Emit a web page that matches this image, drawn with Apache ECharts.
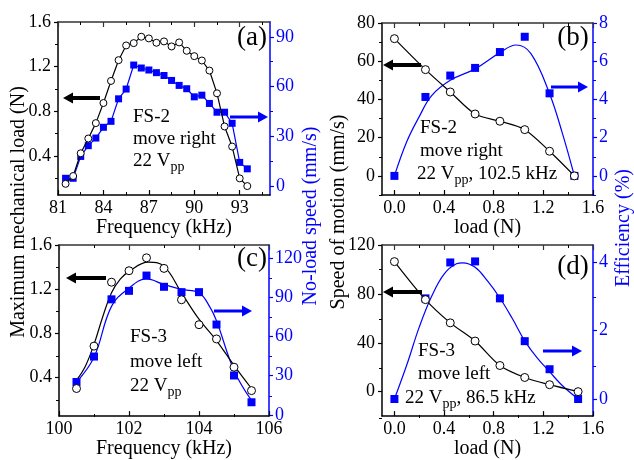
<!DOCTYPE html>
<html>
<head>
<meta charset="utf-8">
<script src="https://cdn.jsdelivr.net/npm/echarts@6/dist/echarts.min.js"></script>
<style>
    html, body { margin: 0; padding: 0; background: #fff; }
    #chart { width: 634px; height: 460px; }
</style>
</head>
<body>
<div id="chart"></div>
<script>
// (a) FS-2 move right, frequency sweep
const freqA = [81.5, 82, 82.5, 83, 83.5, 84, 84.5, 85, 85.5, 86, 86.5, 87, 87.5, 88, 88.5, 89, 89.5, 90, 90.5, 91, 91.5, 92, 92.5, 93, 93.5]
const loadA = [0.15, 0.22, 0.424, 0.556, 0.694, 0.874, 1.072, 1.258, 1.39, 1.411, 1.468, 1.453, 1.414, 1.426, 1.381, 1.417, 1.342, 1.294, 1.255, 1.165, 0.961, 0.664, 0.484, 0.199, 0.13]
const speedA = [4.6, 4.6, 17.8, 24.3, 28.9, 35.4, 39.0, 52.6, 58.5, 73.0, 71.2, 70.0, 68.4, 66.7, 63.7, 60.7, 58.7, 53.8, 54.8, 49.8, 44.5, 44.5, 37.8, 14.2, 10.3]

// (b) FS-2 move right, 22 Vpp, 102.5 kHz
const loadB = [0, 0.25, 0.45, 0.65, 0.85, 1.05, 1.25, 1.45]
const speedB = [71.8, 55.6, 43.9, 32.4, 28.6, 24.2, 12.9, 0]
const effB = [0, 4.13, 5.25, 5.65, 6.48, 7.28, 4.32, 0]
const effFitLoadB = [0, 0.1, 0.2, 0.3, 0.45, 0.65, 0.85, 0.98, 1.1, 1.25, 1.35, 1.45]
const effFitB = [0, 1.8, 3.1, 4.2, 5.0, 5.6, 6.45, 6.85, 6.4, 4.3, 2.3, 0]

// (c) FS-3 move left, frequency sweep
const freqC = [100.5, 101, 101.5, 102, 102.5, 103, 103.5, 104, 104.5, 105, 105.5]
const loadC = [0.30, 0.684, 1.263, 1.367, 1.484, 1.388, 1.104, 0.878, 0.749, 0.493, 0.281]
const speedC = [25.1, 44.6, 88.4, 94.9, 106.6, 98, 93.9, 93.9, 69.1, 30.1, 9.6]
const loadFitFreqC = [100.5, 100.75, 101, 101.25, 101.5, 101.75, 102, 102.55, 103, 103.5, 104, 104.5, 105, 105.5]
const loadFitC = [0.376, 0.50, 0.70, 0.95, 1.167, 1.29, 1.361, 1.445, 1.406, 1.167, 0.928, 0.734, 0.51, 0.30]
const speedFitFreqC = [100.5, 101, 101.5, 102, 102.5, 103, 103.5, 104, 104.3, 104.5, 105, 105.5]
const speedFitC = [25, 44, 83, 97, 104, 99.7, 96, 93.4, 83, 72, 34, 11]

// (d) FS-3 move left, 22 Vpp, 86.5 kHz
const loadD = [0, 0.25, 0.45, 0.65, 0.85, 1.05, 1.25, 1.48]
const speedD = [106.4, 75.3, 56.3, 41.4, 21.4, 11.6, 5.7, 0]
const effD = [0, 2.94, 3.99, 4.02, 2.94, 1.69, 0.87, 0]
const effFitLoadD = [0, 0.1, 0.2, 0.3, 0.4, 0.5, 0.55, 0.65, 0.75, 0.85, 0.95, 1.05, 1.15, 1.25, 1.35, 1.48]
const effFitD = [0, 1.0, 2.1, 3.0, 3.65, 3.95, 3.98, 3.85, 3.45, 2.95, 2.35, 1.7, 1.2, 0.8, 0.4, 0]

const BLUE = '#0000ff'
const FONT = 'Liberation Serif'
const pairs = (xs, ys) => xs.map((x, k) => [x, ys[k]])

// panel layout + axis ranges
const panels = [
    {
        grid: { left: 58, top: 22, width: 212, height: 173 },
        x: [81, 95], xMajor: [81, 84, 87, 90, 93], xMinor: [82.5, 85.5, 88.5, 91.5, 94.5], xDec: 0,
        xName: 'Frequency (kHz)', nameGap: 21,
        yl: [0.05, 1.6], ylMajor: [0.4, 0.8, 1.2, 1.6], ylMinor: [0.2, 0.6, 1.0, 1.4], ylDec: 1,
        yr: [-5.5, 99], yrMajor: [0, 30, 60, 90], yrMinor: [15, 45, 75], yrDec: 0
    },
    {
        grid: { left: 382, top: 23, width: 211, height: 172 },
        x: [-0.1, 1.6], xMajor: [0, 0.4, 0.8, 1.2, 1.6], xMinor: [0.2, 0.6, 1.0, 1.4], xDec: 1,
        xName: 'load (N)', nameGap: 21,
        yl: [-10, 80], ylMajor: [0, 20, 40, 60, 80], ylMinor: [-10, 10, 30, 50, 70], ylDec: 0,
        yr: [-1, 8], yrMajor: [0, 2, 4, 6, 8], yrMinor: [-1, 1, 3, 5, 7], yrDec: 0
    },
    {
        grid: { left: 59, top: 245, width: 210, height: 172 },
        x: [100, 106], xMajor: [100, 102, 104, 106], xMinor: [101, 103, 105], xDec: 0,
        xName: 'Frequency (kHz)', nameGap: 22,
        yl: [0.05, 1.6], ylMajor: [0.4, 0.8, 1.2, 1.6], ylMinor: [0.2, 0.6, 1.0, 1.4], ylDec: 1,
        yr: [-1, 130], yrMajor: [0, 30, 60, 90, 120], yrMinor: [15, 45, 75, 105], yrDec: 0
    },
    {
        grid: { left: 382, top: 245, width: 211, height: 173 },
        x: [-0.1, 1.6], xMajor: [0, 0.4, 0.8, 1.2, 1.6], xMinor: [0.2, 0.6, 1.0, 1.4], xDec: 1,
        xName: 'load (N)', nameGap: 22,
        yl: [-20, 120], ylMajor: [0, 40, 80, 120], ylMinor: [-20, 20, 60, 100], ylDec: 0,
        yr: [-0.5, 4.5], yrMajor: [0, 2, 4], yrMinor: [1, 3], yrDec: 0
    }
]

const tickFont = { fontFamily: FONT, fontSize: 18 }
const grids = []
const xAxes = []
const yAxes = []

// main grids: labels, lines, major ticks
panels.forEach((p, i) => {
    grids.push(p.grid)
    xAxes.push({
        type: 'value', gridIndex: i, position: 'bottom', min: p.x[0], max: p.x[1],
        axisLine: { onZero: false, lineStyle: { color: '#000', width: 1.5 } },
        axisTick: { inside: true, length: 5, customValues: p.xMajor, lineStyle: { color: '#000', width: 1.2 } },
        axisLabel: { customValues: p.xMajor, margin: 4, color: '#000', ...tickFont, formatter: v => v.toFixed(p.xDec) },
        splitLine: { show: false },
        name: p.xName, nameLocation: 'middle', nameGap: p.nameGap,
        nameTextStyle: { fontFamily: FONT, fontSize: 20, color: '#000' }
    })
    xAxes.push({
        type: 'value', gridIndex: i, position: 'top', min: p.x[0], max: p.x[1],
        axisLine: { onZero: false, lineStyle: { color: '#333', width: 1.5 } },
        axisTick: { inside: true, length: 5, customValues: p.xMajor, lineStyle: { color: '#333', width: 1.2 } },
        axisLabel: { show: false }, splitLine: { show: false }
    })
    yAxes.push({
        type: 'value', gridIndex: i, position: 'left', min: p.yl[0], max: p.yl[1],
        axisLine: { onZero: false, lineStyle: { color: '#000', width: 1.5 } },
        axisTick: { length: 4, customValues: p.ylMajor, lineStyle: { color: '#000', width: 1.2 } },
        axisLabel: { customValues: p.ylMajor, margin: 7, color: '#000', ...tickFont, formatter: v => v.toFixed(p.ylDec) },
        splitLine: { show: false }
    })
    yAxes.push({
        type: 'value', gridIndex: i, position: 'right', min: p.yr[0], max: p.yr[1],
        axisLine: { onZero: false, lineStyle: { color: BLUE, width: 1.5 } },
        axisTick: { length: 4, customValues: p.yrMajor, lineStyle: { color: BLUE, width: 1.2 } },
        axisLabel: { customValues: p.yrMajor, margin: 6, color: BLUE, ...tickFont, formatter: v => v.toFixed(p.yrDec) },
        splitLine: { show: false }
    })
})

// overlay grids: minor ticks only
panels.forEach((p, i) => {
    const g = 4 + i
    grids.push(p.grid)
    const minorX = (pos) => ({
        type: 'value', gridIndex: g, position: pos, min: p.x[0], max: p.x[1],
        axisLine: { show: false, onZero: false },
        axisTick: { inside: true, length: 3, customValues: p.xMinor, lineStyle: { color: '#000', width: 1 } },
        axisLabel: { show: false }, splitLine: { show: false }
    })
    xAxes.push(minorX('bottom'), minorX('top'))
    yAxes.push({
        type: 'value', gridIndex: g, position: 'left', min: p.yl[0], max: p.yl[1],
        axisLine: { show: false, onZero: false },
        axisTick: { length: 3, customValues: p.ylMinor, lineStyle: { color: '#000', width: 1 } },
        axisLabel: { show: false }, splitLine: { show: false }
    })
    yAxes.push({
        type: 'value', gridIndex: g, position: 'right', min: p.yr[0], max: p.yr[1],
        axisLine: { show: false, onZero: false },
        axisTick: { length: 3, customValues: p.yrMinor, lineStyle: { color: BLUE, width: 1 } },
        axisLabel: { show: false }, splitLine: { show: false }
    })
})

// open circles (left axis), filled blue squares (right axis), smooth fits
const circles = (i, data, size, smooth, showLine = true) => ({
    type: 'line', xAxisIndex: 2 * i, yAxisIndex: 2 * i, data, smooth,
    symbol: 'circle', symbolSize: size, z: 4,
    itemStyle: { color: '#fff', borderColor: '#000', borderWidth: 1 },
    lineStyle: { color: '#000', width: 1.2, opacity: showLine ? 1 : 0 }
})
const squares = (i, data, size, showLine) => ({
    type: 'line', xAxisIndex: 2 * i, yAxisIndex: 2 * i + 1, data,
    symbol: 'rect', symbolSize: size, z: 3,
    itemStyle: { color: BLUE },
    lineStyle: { color: BLUE, width: 1.2, opacity: showLine ? 1 : 0 }
})
const fit = (i, yIdx, data, color) => ({
    type: 'line', xAxisIndex: 2 * i, yAxisIndex: 2 * i + yIdx, data, smooth: 0.4,
    showSymbol: false, z: 2,
    lineStyle: { color, width: 1.2 }
})

const series = [
    squares(0, pairs(freqA, speedA), 7, true),
    circles(0, pairs(freqA, loadA), 7, false),

    fit(1, 1, pairs(effFitLoadB, effFitB), BLUE),
    squares(1, pairs(loadB, effB), 8, false),
    circles(1, pairs(loadB, speedB), 8, 0.3),

    fit(2, 1, pairs(speedFitFreqC, speedFitC), BLUE),
    fit(2, 0, pairs(loadFitFreqC, loadFitC), '#000'),
    squares(2, pairs(freqC, speedC), 8, false),
    circles(2, pairs(freqC, loadC), 8, false, false),

    fit(3, 1, pairs(effFitLoadD, effFitD), BLUE),
    squares(3, pairs(loadD, effD), 8, false),
    circles(3, pairs(loadD, speedD), 8, 0.3)
]

// annotation helpers
const label = (text, x, y, size = 19, color = '#000', align = 'left') => ({
    type: 'text', z: 10,
    style: {
        text, x, y, fill: color, fontFamily: FONT, fontSize: size,
        align, verticalAlign: 'middle',
        rich: { sub: { fontFamily: FONT, fontSize: 14, padding: [12, 0, 0, 0] } }
    }
})
const vlabel = (text, x, y, color = '#000') => ({
    type: 'text', z: 10, x, y, rotation: Math.PI / 2,
    style: { text, x: 0, y: 0, fill: color, fontFamily: FONT, fontSize: 20, align: 'center', verticalAlign: 'middle' }
})
const arrow = (tail, tip, y, color, w = 4) => {
    const dir = tip < tail ? -1 : 1
    const base = tip - dir * 10
    return {
        type: 'group', z: 10,
        children: [
            { type: 'line', shape: { x1: tail, y1: y, x2: base, y2: y }, style: { stroke: color, lineWidth: w } },
            { type: 'polygon', shape: { points: [[tip, y], [base, y - 5.5], [base, y + 5.5]] }, style: { fill: color } }
        ]
    }
}

const graphic = [
    // (a)
    label('(a)', 252, 38, 27, '#000', 'center'),
    label('FS-2', 133, 117),
    label('move right', 133, 139),
    label('22 V{sub|pp}', 133, 161),
    arrow(100, 63, 98, '#000'),
    arrow(230, 268, 117, BLUE, 3),
    // (b)
    label('(b)', 573, 38, 27, '#000', 'center'),
    label('FS-2', 420, 128),
    label('move right', 420, 151),
    label('22 V{sub|pp}, 102.5 kHz', 417, 174),
    arrow(421, 383, 65, '#000'),
    arrow(551, 588, 87, BLUE, 3),
    // (c)
    label('(c)', 252, 259, 27, '#000', 'center'),
    label('FS-3', 130, 337),
    label('move left', 130, 362),
    label('22 V{sub|pp}', 130, 386),
    arrow(106, 66, 278, '#000'),
    arrow(214, 252, 311, BLUE, 3),
    // (d)
    label('(d)', 573, 267, 27, '#000', 'center'),
    label('FS-3', 418, 351),
    label('move left', 418, 374),
    label('22 V{sub|pp}, 86.5 kHz', 405, 398),
    arrow(422, 383, 292, '#000'),
    arrow(543, 582, 351, BLUE, 3),
    // shared axis titles, read bottom-to-top
    vlabel('Maximum mechanical load (N)', 19, 212),
    vlabel('No-load speed (mm/s)', 311, 216, BLUE),
    vlabel('Speed of motion (mm/s)', 339, 212),
    vlabel('Efficiency (%)', 624, 228, BLUE)
]

const chart = echarts.init(document.getElementById('chart'))
chart.setOption({
    animation: false,
    backgroundColor: '#fff',
    textStyle: { fontFamily: FONT },
    grid: grids,
    xAxis: xAxes,
    yAxis: yAxes,
    series,
    graphic
})
</script>
</body>
</html>
